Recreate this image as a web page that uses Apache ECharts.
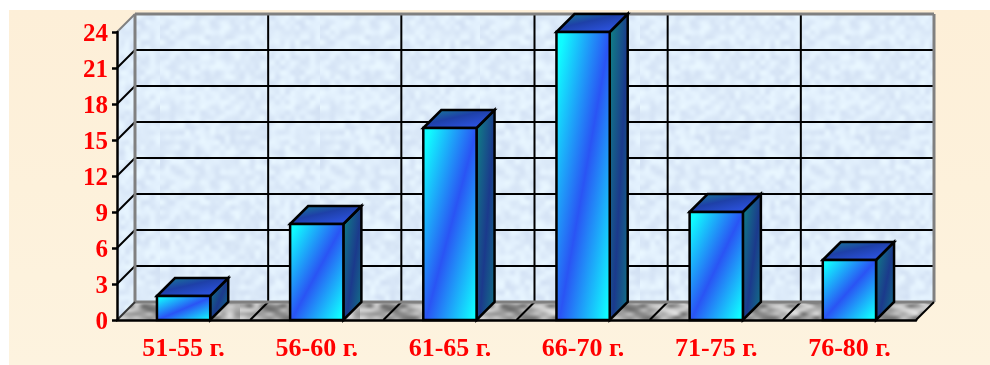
<!DOCTYPE html>
<html>
<head>
<meta charset="utf-8">
<style>html,body{margin:0;padding:0;background:#fff}#chart{width:990px;height:365px}</style>
<script src="https://cdn.jsdelivr.net/npm/echarts@6/dist/echarts.min.js"></script>
</head>
<body>
<div id="chart"></div>
<script>
const categories = ['51-55 г.', '56-60 г.', '61-65 г.', '66-70 г.', '71-75 г.', '76-80 г.'];
const counts = [2, 8, 16, 24, 9, 5];
const yTicks = [0, 3, 6, 9, 12, 15, 18, 21, 24];

const DEPTH = 18;
const BAR_SHARE = 0.4;
const LABEL_STYLE = { color: '#ff0000', fontFamily: 'Liberation Serif', fontWeight: 'bold' };

// Small repeating mottled tile, painted with a fixed-seed generator and softened by scaling.
function mottled(width, height, base, spread, cellX, cellY, blueShare) {
  let seed = width * 31 + height * 7 + cellX;
  const next = () => (seed = (seed * 16807) % 2147483647) / 2147483647;
  const small = document.createElement('canvas');
  small.width = Math.ceil(width / cellX);
  small.height = Math.ceil(height / cellY);
  const sctx = small.getContext('2d');
  const img = sctx.createImageData(small.width, small.height);
  for (let i = 0; i < img.data.length; i += 4) {
    const d = (next() - 0.5) * spread;
    img.data[i] = base[0] + d;
    img.data[i + 1] = base[1] + d;
    img.data[i + 2] = base[2] + d * blueShare;
    img.data[i + 3] = 255;
  }
  sctx.putImageData(img, 0, 0);
  const tile = document.createElement('canvas');
  tile.width = width;
  tile.height = height;
  const ctx = tile.getContext('2d');
  ctx.imageSmoothingEnabled = true;
  ctx.imageSmoothingQuality = 'high';
  ctx.drawImage(small, 0, 0, width, height);
  return { image: tile, repeat: 'repeat' };
}

const wallFill = mottled(160, 160, [222, 236, 250], 22, 5, 5, 0.6);
const floorFill = mottled(120, 36, [165, 165, 165], 120, 7, 4, 1);

function line(x1, y1, x2, y2, stroke, lineWidth) {
  return { type: 'line', shape: { x1, y1, x2, y2 }, style: { stroke, lineWidth, fill: null } };
}
function poly(points, style) {
  return { type: 'polygon', shape: { points }, style };
}
function linear(x, y, x2, y2, stops) {
  return { type: 'linear', x, y, x2, y2, colorStops: stops.map((s) => ({ offset: s[0], color: s[1] })) };
}
// Corner-to-corner gradient whose bands follow the anti-diagonal of a w x h box.
function stretchedDiagonal(w, h, stops) {
  const denom = h * h + w * w;
  return linear(0, 0, 2 * h * h / denom, 2 * w * w / denom, stops);
}

// Back wall, side wall, floor and their grid lines.
function renderRoom(params, api) {
  if (params.dataIndex !== 0) return null;
  const c = params.coordSys;
  const left = c.x, right = c.x + c.width, top = c.y, bottom = c.y + c.height;
  const d = DEPTH;
  const band = c.width / categories.length;
  const children = [
    poly([[left, top], [left + d, top - d], [left + d, bottom - d], [left, bottom]], { fill: wallFill }),
    { type: 'rect', shape: { x: left + d, y: top - d, width: c.width, height: c.height }, style: { fill: wallFill } },
    poly([[left, bottom], [left + d, bottom - d], [right + d, bottom - d], [right, bottom]], { fill: floorFill })
  ];
  yTicks.forEach((t) => {
    const y = api.coord([0, t])[1];
    if (t > 0 && t < yTicks[yTicks.length - 1]) {
      children.push(line(left, y, left + d, y - d, '#000', 2));
      children.push(line(left + d, y - d, right + d, y - d, '#000', 2));
    }
  });
  for (let i = 1; i < categories.length; i++) {
    const x = left + band * i;
    children.push(line(x + d, top - d, x + d, bottom - d, '#000', 2));
    children.push(line(x + d, bottom - d, x, bottom, '#000', 2));
  }
  children.push(
    line(left, top, left + d, top - d, '#808080', 2),
    line(left + d, top - d, right + d, top - d, '#808080', 3),
    line(left + d, top - d, left + d, bottom - d, '#808080', 3),
    line(right + d, top - d, right + d, bottom - d, '#808080', 3),
    line(left + d, bottom - d, right + d, bottom - d, '#808080', 3),
    line(left, bottom, left + d, bottom - d, '#333', 2),
    line(right, bottom, right + d, bottom - d, '#000', 2)
  );
  return { type: 'group', children };
}

// One prism: front face, lid and right side.
function renderPrism(params, api) {
  const head = api.coord([api.value(0), api.value(1)]);
  const foot = api.coord([api.value(0), 0]);
  const w = api.size([1, 0])[0] * BAR_SHARE;
  const d = DEPTH;
  const x0 = head[0] - w / 2, x1 = head[0] + w / 2, y0 = head[1], y1 = foot[1];
  const h = y1 - y0;
  const edge = { stroke: '#000', lineWidth: 2.5, lineJoin: 'miter' };
  const frontFill = stretchedDiagonal(w, h, [[0, '#10ffff'], [0.08, '#10fbff'], [0.5, '#2a54f4'], [0.92, '#10fbff'], [1, '#10ffff']]);
  const lidFill = stretchedDiagonal(w + d, d, [[0, '#178a92'], [0.4, '#1e40a8'], [0.7, '#2a50d8'], [1, '#2a58e0']]);
  const sideFill = stretchedDiagonal(d, h + d, [[0, '#0e8a84'], [0.5, '#1b3a8c'], [1, '#0e8a84']]);
  return {
    type: 'group',
    children: [
      poly([[x1, y0], [x1 + d, y0 - d], [x1 + d, y1 - d], [x1, y1]], Object.assign({ fill: sideFill }, edge)),
      poly([[x0, y0], [x0 + d, y0 - d], [x1 + d, y0 - d], [x1, y0]], Object.assign({ fill: lidFill }, edge)),
      { type: 'rect', shape: { x: x0, y: y0, width: w, height: h }, style: Object.assign({ fill: frontFill }, edge) }
    ]
  };
}

const chart = echarts.init(document.getElementById('chart'), null, { renderer: 'canvas' });
chart.setOption({
  animation: false,
  backgroundColor: '#fff',
  graphic: [{
    type: 'rect', z: -10, silent: true,
    shape: { x: 9, y: 10, width: 981, height: 355 },
    style: { fill: linear(0, 0, 0, 1, [[0, '#fdefd8'], [0.5, '#fdf1db'], [1, '#fdf3df']]) }
  }],
  grid: { left: 117, right: 74, top: 32, bottom: 45, containLabel: false },
  xAxis: {
    type: 'category',
    data: categories,
    z: 10,
    axisLine: { lineStyle: { color: '#000', width: 2.5 } },
    axisTick: { length: 5, lineStyle: { color: '#000', width: 2.5 } },
    axisLabel: Object.assign({ margin: 16, interval: 0, fontSize: 26 }, LABEL_STYLE),
    splitLine: { show: false }
  },
  yAxis: {
    type: 'value',
    min: 0,
    max: 24,
    interval: 3,
    z: 10,
    axisLine: { show: true, lineStyle: { color: '#000', width: 2.5 } },
    axisTick: { show: true, length: 5, lineStyle: { color: '#000', width: 2.5 } },
    axisLabel: {
      margin: 9,
      formatter: '{v|{value}}',
      rich: { v: Object.assign({ fontSize: 25, padding: [6, 0, 0, 0] }, LABEL_STYLE) }
    },
    splitLine: { show: false }
  },
  series: [
    { type: 'custom', silent: true, z: 1, renderItem: renderRoom, data: [[0, 0]], encode: { x: 0, y: 1 } },
    {
      type: 'custom', silent: true, z: 2, renderItem: renderPrism,
      data: counts.map((v, i) => [i, v]), encode: { x: 0, y: 1 }
    }
  ]
});
</script>
</body>
</html>
